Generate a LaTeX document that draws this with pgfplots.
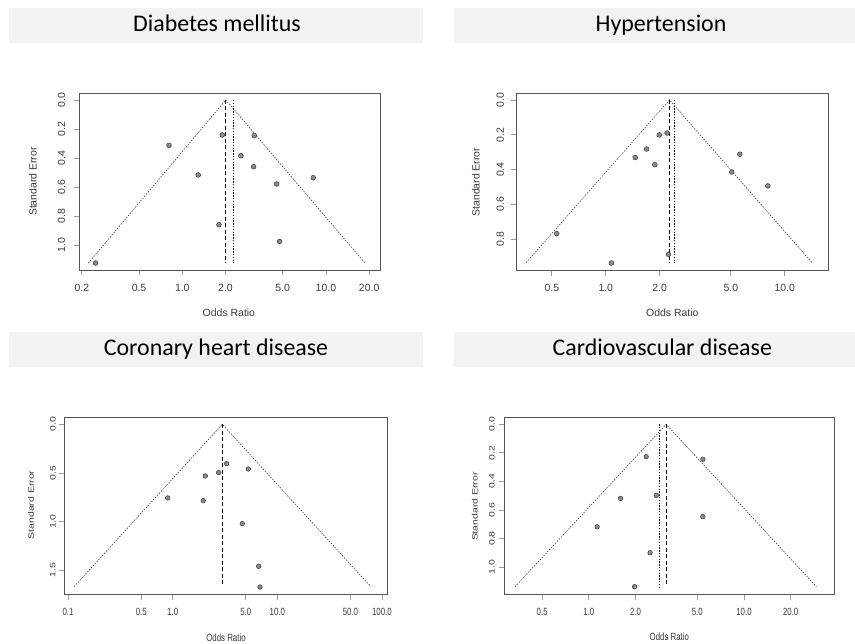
\documentclass[border=0pt]{standalone}
\usepackage{graphicx}
\usepackage{pgfplots}
\usepackage{pgfplotstable}
\pgfplotsset{compat=1.18}
\usepackage{fontspec}
\setmainfont{Liberation Sans}
\newfontfamily\calib{Carlito}
\definecolor{band}{HTML}{F2F2F2}
\definecolor{boxc}{HTML}{555555}
\definecolor{txt}{HTML}{3A3A3A}
\definecolor{ptfill}{HTML}{8A8A8A}
\definecolor{tickc}{HTML}{999999}

\pgfplotsset{
 every axis/.append style={
  scale only axis, anchor=center,
  axis line style={boxc, line width=0.8bp},
  tick align=outside, major tick length=5.5bp,
  xminorticks=false, yminorticks=false,
  tick style={color=tickc, line width=0.8bp},
  xtick pos=left, ytick pos=left,
  ticklabel style={font=\fontsize{10.5}{12}\selectfont, text=txt},
  xticklabel style={anchor=center, yshift=-12bp},
  label style={font=\fontsize{10.5}{12}\selectfont, text=txt},
 },
}
\tikzset{
 funnel/.style={draw=txt, line width=0.6bp, dash pattern=on 1.4bp off 1.4bp},
 fixedl/.style={draw=black, line width=0.7bp, dash pattern=on 4bp off 2.5bp},
 randl/.style={draw=black, line width=0.6bp, dash pattern=on 1.4bp off 1.4bp},
 ttl/.style={font=\calib\fontsize{24}{28}\selectfont, anchor=base, inner sep=0pt},
}

\pgfplotstableread{
or se
0.808 0.313
1.90 0.241
3.17 0.246
2.56 0.384
3.14 0.460
1.29 0.517
8.16 0.536
4.54 0.579
1.80 0.860
4.76 0.975
0.249 1.124
}\dmpts

\pgfplotstableread{
or se
0.532 0.768
1.075 0.937
1.46 0.331
1.69 0.282
1.88 0.372
1.99 0.201
2.20 0.190
2.24 0.887
5.06 0.414
5.61 0.312
8.04 0.494
}\htpts

\pgfplotstableread{
or se
3.28 0.405
5.28 0.459
2.75 0.497
2.05 0.531
0.896 0.757
1.96 0.785
4.63 1.021
6.64 1.459
6.83 1.672
}\chdpts

\pgfplotstableread{
or se
2.34 0.227
5.43 0.245
2.72 0.498
1.60 0.519
5.43 0.647
1.13 0.718
2.48 0.900
1.97 1.138
}\cvdpts

\begin{document}
\begin{tikzpicture}
\path[use as bounding box, fill=white] (0bp,0bp) rectangle (855bp,644bp);
% title bands
\fill[band] (9bp,601bp) rectangle (423bp,636bp);
\fill[band] (454bp,601bp) rectangle (855bp,636bp);
\fill[band] (9bp,277bp) rectangle (423bp,312bp);
\fill[band] (454bp,277bp) rectangle (855bp,312bp);
\node[ttl] at (217bp,612.3bp) {Diabetes mellitus};
\node[ttl] at (661bp,612.3bp) {Hypertension};
\node[ttl] at (216bp,288.3bp) {Coronary heart disease};
\node[ttl] at (662.3bp,288.3bp) {Cardiovascular disease};

% Panel 1: Diabetes mellitus
\begin{axis}[xmode=log, at={(229.5bp,462.5bp)}, width=301bp, height=177bp,
  xmin=0.191, xmax=23.8, ymin=-1.172, ymax=0.048,
  xtick={0.2,0.5,1,2,5,10,20},
  xticklabels={0.2,0.5,1.0,2.0,5.0,10.0,20.0},
  ytick={-1,-0.8,-0.6,-0.4,-0.2,0},
  yticklabels={1.0,0.8,0.6,0.4,0.2,0.0},
  yticklabel style={xshift=-12bp, rotate=90, anchor=center},
  xlabel={Odds Ratio}, ylabel={Standard Error},
  xlabel style={at={(axis description cs:0.498,-0.243)}, anchor=center},
  ylabel style={at={(axis description cs:-0.153,0.499)}, anchor=center},
]
\addplot[funnel, y filter/.expression={-y}] coordinates {(0.222,1.124) (2.01,0) (18.7,1.124)};
\addplot[fixedl, y filter/.expression={-y}] coordinates {(2.01,0) (2.01,1.124)};
\addplot[randl, y filter/.expression={-y}] coordinates {(2.26,0) (2.26,1.124)};
\addplot[only marks, mark=*, mark size=2.4bp, mark options={fill=ptfill, draw=txt, line width=0.5bp}, y filter/.expression={-y}] table[x=or,y=se] {\dmpts};
\end{axis}

% Panel 2: Hypertension
\begin{axis}[xmode=log, at={(672.7bp,462bp)}, width=312bp, height=177.4bp,
  xmin=0.318, xmax=17.6, ymin=-0.981, ymax=0.038,
  xtick={0.5,1,2,5,10},
  xticklabels={0.5,1.0,2.0,5.0,10.0},
  ytick={-0.8,-0.6,-0.4,-0.2,0},
  yticklabels={0.8,0.6,0.4,0.2,0.0},
  yticklabel style={xshift=-11bp, rotate=90, anchor=center},
  xlabel={Odds Ratio}, ylabel={Standard Error},
  xlabel style={at={(axis description cs:0.499,-0.238)}, anchor=center},
  ylabel style={at={(axis description cs:-0.131,0.499)}, anchor=center},
]
\addplot[funnel, y filter/.expression={-y}] coordinates {(0.359,0.935) (2.27,0) (14.2,0.935)};
\addplot[fixedl, y filter/.expression={-y}] coordinates {(2.27,0) (2.27,0.935)};
\addplot[randl, y filter/.expression={-y}] coordinates {(2.43,0) (2.43,0.935)};
\addplot[only marks, mark=*, mark size=2.4bp, mark options={fill=ptfill, draw=txt, line width=0.5bp}, y filter/.expression={-y}] table[x=or,y=se] {\htpts};
\end{axis}

% Panel 3: Coronary heart disease
\begin{axis}[xmode=log, at={(226bp,138.2bp)}, width=323.4bp, height=177bp,
  xmin=0.092, xmax=113.6, ymin=-1.747, ymax=0.072,
  xtick={0.1,0.5,1,5,10,50,100},
  xticklabels={\scalebox{0.75}[1]{0.1},\scalebox{0.75}[1]{0.5},\scalebox{0.75}[1]{1.0},\scalebox{0.75}[1]{5.0},\scalebox{0.75}[1]{10.0},\scalebox{0.75}[1]{50.0},\scalebox{0.75}[1]{100.0}},
  ytick={-1.5,-1,-0.5,0},
  yticklabels={\scalebox{1}[0.75]{1.5},\scalebox{1}[0.75]{1.0},\scalebox{1}[0.75]{0.5},\scalebox{1}[0.75]{0.0}},
  yticklabel style={xshift=-6bp, rotate=90, anchor=center},
  xlabel={\scalebox{0.75}[1]{Odds Ratio}}, ylabel={\scalebox{1}[0.75]{Standard Error}},
  xlabel style={at={(axis description cs:0.5,-0.243)}, anchor=center},
  ylabel style={at={(axis description cs:-0.103,0.505)}, anchor=center},
]
\addplot[funnel, y filter/.expression={-y}] coordinates {(0.114,1.669) (2.98,0) (78.5,1.669)};
\addplot[fixedl, y filter/.expression={-y}] coordinates {(2.98,0) (2.98,1.669)};
\addplot[only marks, mark=*, mark size=2.3bp, mark options={fill=ptfill, draw=txt, line width=0.5bp}, y filter/.expression={-y}] table[x=or,y=se] {\chdpts};
\end{axis}

% Panel 4: Cardiovascular disease
\begin{axis}[xmode=log, at={(669.3bp,138.2bp)}, width=330bp, height=177bp,
  xmin=0.285, xmax=38.2, ymin=-1.191, ymax=0.049,
  xtick={0.5,1,2,5,10,20},
  xticklabels={\scalebox{0.75}[1]{0.5},\scalebox{0.75}[1]{1.0},\scalebox{0.75}[1]{2.0},\scalebox{0.75}[1]{5.0},\scalebox{0.75}[1]{10.0},\scalebox{0.75}[1]{20.0}},
  ytick={-1,-0.8,-0.6,-0.4,-0.2,0},
  yticklabels={\scalebox{1}[0.75]{1.0},\scalebox{1}[0.75]{0.8},\scalebox{1}[0.75]{0.6},\scalebox{1}[0.75]{0.4},\scalebox{1}[0.75]{0.2},\scalebox{1}[0.75]{0.0}},
  yticklabel style={xshift=-7bp, rotate=90, anchor=center},
  xlabel={\scalebox{0.75}[1]{Odds Ratio}}, ylabel={\scalebox{1}[0.75]{Standard Error}},
  xlabel style={at={(axis description cs:0.5,-0.241)}, anchor=center},
  ylabel style={at={(axis description cs:-0.089,0.495)}, anchor=center},
]
\addplot[funnel, y filter/.expression={-y}] coordinates {(0.334,1.138) (3.15,0) (29.3,1.138)};
\addplot[fixedl, y filter/.expression={-y}] coordinates {(3.15,0) (3.15,1.138)};
\addplot[randl, y filter/.expression={-y}] coordinates {(2.86,0) (2.86,1.138)};
\addplot[only marks, mark=*, mark size=2.3bp, mark options={fill=ptfill, draw=txt, line width=0.5bp}, y filter/.expression={-y}] table[x=or,y=se] {\cvdpts};
\end{axis}
\end{tikzpicture}
\end{document}
